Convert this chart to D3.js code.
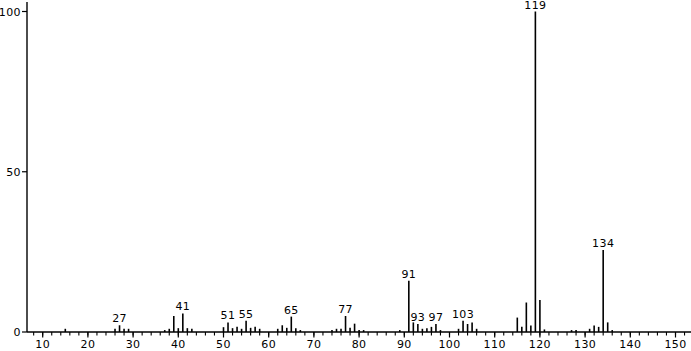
<!DOCTYPE html>
<html>
<head>
<meta charset="utf-8">
<script src="https://d3js.org/d3.v7.min.js"></script>
<style>
  body { margin: 0; background: #fff; }
  text { font-family: "DejaVu Sans", sans-serif; font-size: 11px; fill: #000; letter-spacing: 0.4px; }
</style>
</head>
<body>
<svg width="691" height="351"></svg>
<script>
// m/z of every line and its relative abundance (base peak = 100)
const masses = [15, 26, 27, 28, 29, 37, 38, 39, 40, 41, 42, 43, 50, 51, 52, 53, 54, 55, 56, 57, 58,
  62, 63, 64, 65, 66, 67, 74, 75, 76, 77, 78, 79, 80, 81, 89, 91, 92, 93, 94, 95, 96, 97, 98,
  102, 103, 104, 105, 106, 115, 116, 117, 118, 119, 120, 121, 127, 128, 131, 132, 133, 134, 135, 136];
const abundances = [1, 1, 2.1, 1, 1, 0.6, 1, 5, 1.2, 5.8, 1.2, 1, 1.5, 3, 1.2, 1.6, 1, 3.5, 1.3, 1.6, 1,
  1, 2.1, 1.3, 4.8, 1.2, 0.6, 0.6, 1, 1, 5, 1.3, 2.6, 0.6, 0.6, 0.6, 16, 3, 2.5, 1, 1.2, 1.6, 2.5, 0.6,
  1, 3.5, 2.5, 3, 1, 4.5, 1.6, 9.2, 2, 100, 10, 0.8, 0.6, 0.6, 1, 2, 1.6, 25.6, 3, 0.6];
const labelled = [27, 41, 51, 55, 65, 77, 91, 93, 97, 103, 119, 134];
const xTicks = [10, 20, 30, 40, 50, 60, 70, 80, 90, 100, 110, 120, 130, 140, 150];
const yTicks = [0, 50, 100];

const svg = d3.select("svg");
const x = d3.scaleLinear().domain([10, 150]).range([42.7, 675.5]);
const y = d3.scaleLinear().domain([0, 100]).range([332, 11.5]);
const x0 = 27, x1 = 691;

// x axis
const xa = svg.append("g").attr("transform", "translate(0," + y(0) + ")");
xa.append("line").attr("x1", x0).attr("x2", x1).attr("stroke", "#000").attr("stroke-width", 1.4);
xa.selectAll(".minor").data(d3.range(8, 154, 2)).join("line")
  .attr("x1", d => x(d)).attr("x2", d => x(d))
  .attr("y1", 0).attr("y2", 3.5)
  .attr("stroke", "#000").attr("stroke-width", 1.1);
xa.selectAll(".major").data(xTicks).join("line")
  .attr("x1", d => x(d)).attr("x2", d => x(d))
  .attr("y1", 0).attr("y2", 5.5)
  .attr("stroke", "#000").attr("stroke-width", 1.2);
xa.selectAll("text").data(xTicks).join("text")
  .attr("x", d => x(d)).attr("y", 16)
  .attr("text-anchor", "middle")
  .text(d => d);

// y axis
const ya = svg.append("g");
ya.append("line").attr("x1", x0).attr("x2", x0).attr("y1", y(0)).attr("y2", 2)
  .attr("stroke", "#000").attr("stroke-width", 1.4);
ya.selectAll("line.t").data(yTicks).join("line").attr("class", "t")
  .attr("x1", x0 - 5).attr("x2", x0)
  .attr("y1", d => y(d)).attr("y2", d => y(d))
  .attr("stroke", "#000").attr("stroke-width", 1.2);
ya.selectAll("text").data(yTicks).join("text")
  .attr("x", x0 - 6).attr("y", d => y(d) + 4)
  .attr("text-anchor", "end")
  .text(d => d);

// peaks
const peaks = masses.map((m, i) => ({ m: m, v: abundances[i] }));
svg.append("g").selectAll("line").data(peaks).join("line")
  .attr("x1", d => x(d.m)).attr("x2", d => x(d.m))
  .attr("y1", y(0)).attr("y2", d => y(d.v))
  .attr("stroke", "#000").attr("stroke-width", 1.6);

svg.append("g").selectAll("text").data(peaks.filter(d => labelled.includes(d.m))).join("text")
  .attr("x", d => x(d.m)).attr("y", d => y(d.v) - 3)
  .attr("text-anchor", "middle")
  .text(d => d.m);
</script>
</body>
</html>
